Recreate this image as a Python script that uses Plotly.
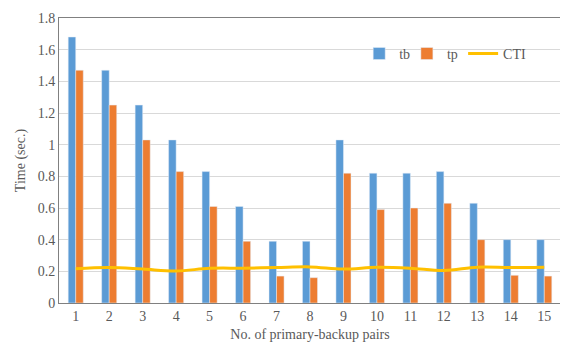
import plotly.graph_objs as go

pairs = [str(i) for i in range(1, 16)]
tb = [1.68, 1.47, 1.25, 1.03, 0.83, 0.61, 0.39, 0.39, 1.03, 0.82, 0.82, 0.83, 0.63, 0.40, 0.40]
tp = [1.47, 1.25, 1.03, 0.83, 0.61, 0.39, 0.17, 0.16, 0.82, 0.59, 0.60, 0.63, 0.40, 0.175, 0.17]
cti = [0.217, 0.224, 0.214, 0.202, 0.219, 0.22, 0.224, 0.228, 0.214, 0.226, 0.22, 0.205, 0.226, 0.224, 0.226]

font_name = "Liberation Serif"
grey = "#595959"

fig = go.Figure()
fig.add_trace(go.Bar(x=pairs, y=tb, name="tb", marker_color="#5B9BD5", legend="legend"))
fig.add_trace(go.Bar(x=pairs, y=tp, name="tp", marker_color="#ED7D31", legend="legend2"))
fig.add_trace(go.Scatter(x=pairs, y=cti, name="CTI", mode="lines", legend="legend3",
                         line=dict(color="#FFC000", width=3, shape="spline")))


def leg(x):
    # one small legend per entry so they can sit close together like the original
    return dict(orientation="h", x=x, y=0.874, xanchor="left", yanchor="middle",
                bgcolor="rgba(0,0,0,0)", itemwidth=30,
                font=dict(family=font_name, size=14, color=grey))


# page body has an 8px margin, so the figure is a bit smaller than the window
fig.update_layout(
    width=560, height=343,
    margin=dict(l=51, r=7, t=10, b=48),
    paper_bgcolor="white", plot_bgcolor="white",
    font=dict(family=font_name, size=14, color=grey),
    barmode="group", bargap=0.55, bargroupgap=0,
    showlegend=True,
    legend=leg(0.598), legend2=leg(0.693), legend3=leg(0.805),
    xaxis=dict(title=dict(text="No. of primary-backup pairs", standoff=6,
                          font=dict(family=font_name, size=14, color=grey)),
               tickfont=dict(family=font_name, size=14, color=grey),
               automargin=False,
               showline=True, linecolor="#808080", mirror=True, ticks="",
               showgrid=False),
    yaxis=dict(title=dict(text="Time (sec.)", standoff=8,
                          font=dict(family=font_name, size=14, color=grey)),
               tickfont=dict(family=font_name, size=14, color=grey),
               automargin=False,
               range=[0, 1.8], dtick=0.2, showline=True, linecolor="#808080",
               mirror=True, gridcolor="#D9D9D9", zeroline=False, ticks=""),
)

fig.write_html("out.html")
